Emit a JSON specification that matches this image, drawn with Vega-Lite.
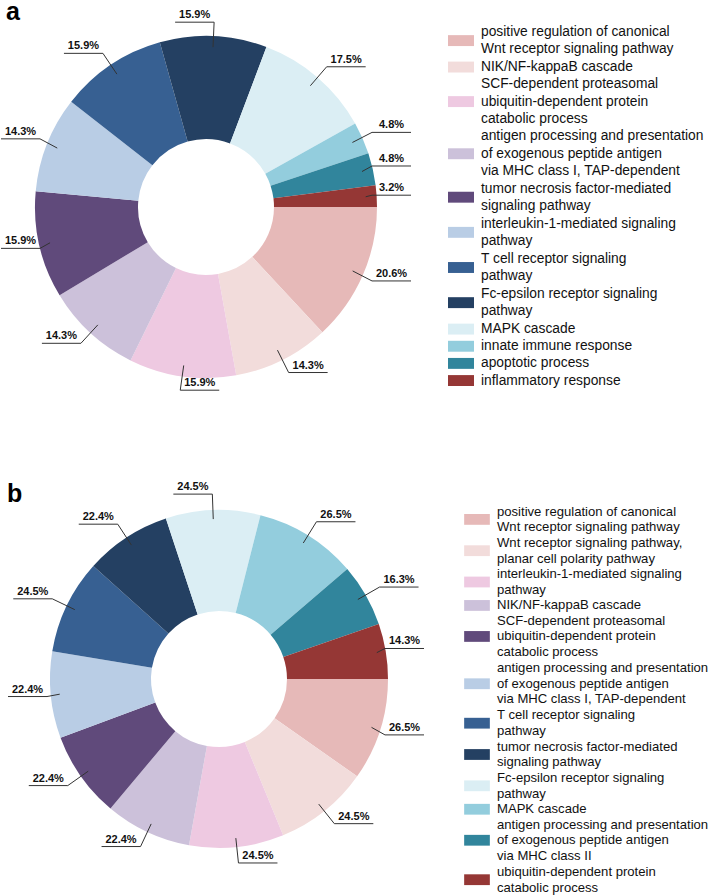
{
  "$schema": "https://vega.github.io/schema/vega-lite/v6.json",
  "padding": 0,
  "background": "white",
  "config": {"view": {"stroke": null}, "font": "Liberation Sans"},
  "params": [
    {"name": "wrap", "value": {
      "positive regulation of canonical Wnt receptor signaling pathway": ["positive regulation of canonical", "Wnt receptor signaling pathway"],
      "SCF-dependent proteasomal ubiquitin-dependent protein catabolic process": ["SCF-dependent proteasomal", "ubiquitin-dependent protein", "catabolic process"],
      "antigen processing and presentation of exogenous peptide antigen via MHC class I, TAP-dependent": ["antigen processing and presentation", "of exogenous peptide antigen", "via MHC class I, TAP-dependent"],
      "tumor necrosis factor-mediated signaling pathway": ["tumor necrosis factor-mediated", "signaling pathway"],
      "interleukin-1-mediated signaling pathway": ["interleukin-1-mediated signaling", "pathway"],
      "T cell receptor signaling pathway": ["T cell receptor signaling", "pathway"],
      "Fc-epsilon receptor signaling pathway": ["Fc-epsilon receptor signaling", "pathway"],
      "Wnt receptor signaling pathway, planar cell polarity pathway": ["Wnt receptor signaling pathway,", "planar cell polarity pathway"],
      "antigen processing and presentation of exogenous peptide antigen via MHC class II": ["antigen processing and presentation", "of exogenous peptide antigen", "via MHC class II"],
      "ubiquitin-dependent protein catabolic process": ["ubiquitin-dependent protein", "catabolic process"]
    }}
  ],
  "bounds": "flush",
  "spacing": 58,
  "resolve": {"scale": {"color": "independent"}, "legend": {"color": "independent"}},
  "vconcat": [
    {
      "width": 410,
      "height": 414,
      "title": {"text": "a", "anchor": "start", "frame": "group", "fontSize": 25, "fontWeight": "bold", "color": "#000", "dx": 5, "offset": -25},
      "data": {"values": [
        {"order": 1, "term": "positive regulation of canonical Wnt receptor signaling pathway", "share": 0.206},
        {"order": 2, "term": "NIK/NF-kappaB cascade", "share": 0.143},
        {"order": 3, "term": "SCF-dependent proteasomal ubiquitin-dependent protein catabolic process", "share": 0.159},
        {"order": 4, "term": "antigen processing and presentation of exogenous peptide antigen via MHC class I, TAP-dependent", "share": 0.143},
        {"order": 5, "term": "tumor necrosis factor-mediated signaling pathway", "share": 0.159},
        {"order": 6, "term": "interleukin-1-mediated signaling pathway", "share": 0.143},
        {"order": 7, "term": "T cell receptor signaling pathway", "share": 0.159},
        {"order": 8, "term": "Fc-epsilon receptor signaling pathway", "share": 0.159},
        {"order": 9, "term": "MAPK cascade", "share": 0.175},
        {"order": 10, "term": "innate immune response", "share": 0.048},
        {"order": 11, "term": "apoptotic process", "share": 0.048},
        {"order": 12, "term": "inflammatory response", "share": 0.032}
      ]},
      "transform": [
        {"window": [{"op": "sum", "field": "share", "as": "cum"}], "sort": [{"field": "order"}], "frame": [null, 0]},
        {"joinaggregate": [{"op": "sum", "field": "share", "as": "total"}]},
        {"calculate": "PI/2 + 2*PI*(datum.cum - datum.share/2)/datum.total", "as": "mid"},
        {"calculate": "160*sin(datum.mid)", "as": "x1"},
        {"calculate": "160*cos(datum.mid)", "as": "y1"},
        {"calculate": "clamp(185*sin(datum.mid), -166, 166)", "as": "x2"},
        {"calculate": "185*cos(datum.mid)", "as": "y2"},
        {"calculate": "datum.x2 + (sin(datum.mid - 0.35) < 0 ? -39 : 39)", "as": "x3"},
        {"calculate": "(datum.x2 + datum.x3)/2", "as": "xt"}
      ],
      "layer": [
        {
          "mark": {"type": "arc", "innerRadius": 68, "outerRadius": 171, "strokeWidth": 0},
          "encoding": {
            "theta": {"field": "share", "type": "quantitative", "stack": true, "scale": {"range": [1.5707963, 7.8539816]}},
            "order": {"field": "order", "type": "quantitative"},
            "color": {
              "field": "term", "type": "nominal",
              "scale": {
                "domain": ["positive regulation of canonical Wnt receptor signaling pathway", "NIK/NF-kappaB cascade", "SCF-dependent proteasomal ubiquitin-dependent protein catabolic process", "antigen processing and presentation of exogenous peptide antigen via MHC class I, TAP-dependent", "tumor necrosis factor-mediated signaling pathway", "interleukin-1-mediated signaling pathway", "T cell receptor signaling pathway", "Fc-epsilon receptor signaling pathway", "MAPK cascade", "innate immune response", "apoptotic process", "inflammatory response"],
                "range": ["#E6B9B8", "#F2DCDB", "#EEC9E1", "#CCC1DA", "#604A7B", "#B9CDE5", "#376092", "#244062", "#DBEEF4", "#93CDDD", "#31859C", "#953735"]
              },
              "legend": {
                "orient": "none", "legendX": 447, "legendY": 25, "title": null, "padding": 0,
                "symbolType": "M-1,-0.42H1V0.42H-1Z", "symbolSize": 676, "symbolStrokeWidth": 0,
                "labelFont": "Liberation Sans", "labelFontSize": 13.8, "labelColor": "#111", "labelOffset": 7, "labelLimit": 400, "rowPadding": 2.15,
                "labelExpr": "wrap[datum.label] || datum.label",
                "encode": {
                  "labels": {"update": {"lineHeight": {"value": 17.4}, "y": {"value": 6.9}, "baseline": {"value": "middle"}}},
                  "symbols": {"update": {"y": {"signal": "6.9 + (length(wrap[datum.label] || [0]) - 1) * 8.7"}}}
                }
              }
            }
          }
        },
        {
          "mark": {"type": "rule", "color": "#333", "strokeWidth": 1},
          "encoding": {
            "x": {"field": "x1", "type": "quantitative", "scale": {"domain": [-205, 205], "nice": false, "zero": false}, "axis": null},
            "y": {"field": "y1", "type": "quantitative", "scale": {"domain": [-207, 207], "nice": false, "zero": false}, "axis": null},
            "x2": {"field": "x2"},
            "y2": {"field": "y2"}
          }
        },
        {
          "mark": {"type": "rule", "color": "#333", "strokeWidth": 1},
          "encoding": {
            "x": {"field": "x2", "type": "quantitative", "scale": {"domain": [-205, 205], "nice": false, "zero": false}, "axis": null},
            "y": {"field": "y2", "type": "quantitative", "scale": {"domain": [-207, 207], "nice": false, "zero": false}, "axis": null},
            "x2": {"field": "x3"}
          }
        },
        {
          "mark": {"type": "text", "fontWeight": "bold", "fontSize": 11, "dy": -4, "baseline": "alphabetic", "color": "#111", "font": "Liberation Sans"},
          "encoding": {
            "x": {"field": "xt", "type": "quantitative", "scale": {"domain": [-205, 205], "nice": false, "zero": false}, "axis": null},
            "y": {"field": "y2", "type": "quantitative", "scale": {"domain": [-207, 207], "nice": false, "zero": false}, "axis": null},
            "text": {"field": "share", "type": "quantitative", "format": ".1%"}
          }
        }
      ]
    },
    {
      "width": 436,
      "height": 414,
      "title": {"text": "b", "anchor": "start", "frame": "group", "fontSize": 25, "fontWeight": "bold", "color": "#000", "dx": 6, "offset": -34.5},
      "data": {"values": [
        {"order": 1, "term": "positive regulation of canonical Wnt receptor signaling pathway", "share": 0.265},
        {"order": 2, "term": "Wnt receptor signaling pathway, planar cell polarity pathway", "share": 0.245},
        {"order": 3, "term": "interleukin-1-mediated signaling pathway", "share": 0.245},
        {"order": 4, "term": "NIK/NF-kappaB cascade", "share": 0.224},
        {"order": 5, "term": "SCF-dependent proteasomal ubiquitin-dependent protein catabolic process", "share": 0.224},
        {"order": 6, "term": "antigen processing and presentation of exogenous peptide antigen via MHC class I, TAP-dependent", "share": 0.224},
        {"order": 7, "term": "T cell receptor signaling pathway", "share": 0.245},
        {"order": 8, "term": "tumor necrosis factor-mediated signaling pathway", "share": 0.224},
        {"order": 9, "term": "Fc-epsilon receptor signaling pathway", "share": 0.245},
        {"order": 10, "term": "MAPK cascade", "share": 0.265},
        {"order": 11, "term": "antigen processing and presentation of exogenous peptide antigen via MHC class II", "share": 0.163},
        {"order": 12, "term": "ubiquitin-dependent protein catabolic process", "share": 0.143}
      ]},
      "transform": [
        {"window": [{"op": "sum", "field": "share", "as": "cum"}], "sort": [{"field": "order"}], "frame": [null, 0]},
        {"joinaggregate": [{"op": "sum", "field": "share", "as": "total"}]},
        {"calculate": "PI/2 + 2*PI*(datum.cum - datum.share/2)/datum.total", "as": "mid"},
        {"calculate": "160*sin(datum.mid)", "as": "x1"},
        {"calculate": "160*cos(datum.mid)", "as": "y1"},
        {"calculate": "clamp(185*sin(datum.mid), -172, 166)", "as": "x2"},
        {"calculate": "185*cos(datum.mid)", "as": "y2"},
        {"calculate": "datum.x2 + (sin(datum.mid - 0.35) < 0 ? -39 : 39)", "as": "x3"},
        {"calculate": "(datum.x2 + datum.x3)/2", "as": "xt"}
      ],
      "layer": [
        {
          "mark": {"type": "arc", "innerRadius": 68, "outerRadius": 169, "strokeWidth": 0},
          "encoding": {
            "theta": {"field": "share", "type": "quantitative", "stack": true, "scale": {"range": [1.5707963, 7.8539816]}},
            "order": {"field": "order", "type": "quantitative"},
            "color": {
              "field": "term", "type": "nominal",
              "scale": {
                "domain": ["positive regulation of canonical Wnt receptor signaling pathway", "Wnt receptor signaling pathway, planar cell polarity pathway", "interleukin-1-mediated signaling pathway", "NIK/NF-kappaB cascade", "SCF-dependent proteasomal ubiquitin-dependent protein catabolic process", "antigen processing and presentation of exogenous peptide antigen via MHC class I, TAP-dependent", "T cell receptor signaling pathway", "tumor necrosis factor-mediated signaling pathway", "Fc-epsilon receptor signaling pathway", "MAPK cascade", "antigen processing and presentation of exogenous peptide antigen via MHC class II", "ubiquitin-dependent protein catabolic process"],
                "range": ["#E6B9B8", "#F2DCDB", "#EEC9E1", "#CCC1DA", "#604A7B", "#B9CDE5", "#376092", "#244062", "#DBEEF4", "#93CDDD", "#31859C", "#953735"]
              },
              "legend": {
                "orient": "none", "legendX": 463, "legendY": 33, "title": null, "padding": 0,
                "symbolType": "M-1,-0.42H1V0.42H-1Z", "symbolSize": 660, "symbolStrokeWidth": 0,
                "labelFont": "Liberation Sans", "labelFontSize": 13.1, "labelColor": "#111", "labelOffset": 7, "labelLimit": 400, "rowPadding": 1.3,
                "labelExpr": "wrap[datum.label] || datum.label",
                "encode": {
                  "labels": {"update": {"lineHeight": {"value": 15.7}, "y": {"value": 6.55}, "baseline": {"value": "middle"}}},
                  "symbols": {"update": {"y": {"signal": "6.55 + (length(wrap[datum.label] || [0]) - 1) * 7.85"}}}
                }
              }
            }
          }
        },
        {
          "mark": {"type": "rule", "color": "#333", "strokeWidth": 1},
          "encoding": {
            "x": {"field": "x1", "type": "quantitative", "scale": {"domain": [-218, 218], "nice": false, "zero": false}, "axis": null},
            "y": {"field": "y1", "type": "quantitative", "scale": {"domain": [-207, 207], "nice": false, "zero": false}, "axis": null},
            "x2": {"field": "x2"},
            "y2": {"field": "y2"}
          }
        },
        {
          "mark": {"type": "rule", "color": "#333", "strokeWidth": 1},
          "encoding": {
            "x": {"field": "x2", "type": "quantitative", "scale": {"domain": [-218, 218], "nice": false, "zero": false}, "axis": null},
            "y": {"field": "y2", "type": "quantitative", "scale": {"domain": [-207, 207], "nice": false, "zero": false}, "axis": null},
            "x2": {"field": "x3"}
          }
        },
        {
          "mark": {"type": "text", "fontWeight": "bold", "fontSize": 11, "dy": -4, "baseline": "alphabetic", "color": "#111", "font": "Liberation Sans"},
          "encoding": {
            "x": {"field": "xt", "type": "quantitative", "scale": {"domain": [-218, 218], "nice": false, "zero": false}, "axis": null},
            "y": {"field": "y2", "type": "quantitative", "scale": {"domain": [-207, 207], "nice": false, "zero": false}, "axis": null},
            "text": {"field": "share", "type": "quantitative", "format": ".1%"}
          }
        }
      ]
    }
  ]
}
